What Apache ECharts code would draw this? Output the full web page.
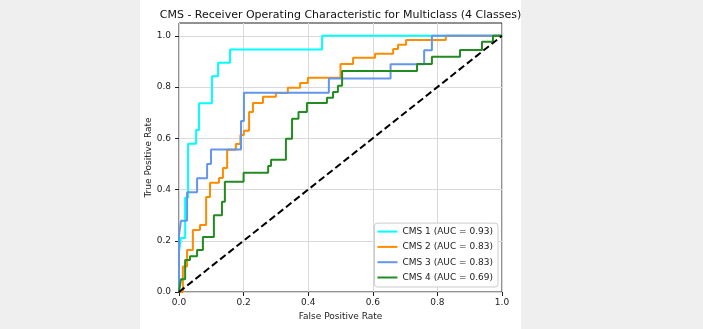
<!DOCTYPE html>
<html>
<head>
<meta charset="utf-8">
<script src="https://cdn.jsdelivr.net/npm/echarts@6/dist/echarts.min.js"></script>
<style>
html,body{margin:0;padding:0;background:#efefef;}
#chart{width:703px;height:329px;}
</style>
</head>
<body>
<div id="chart"></div>
<script>
// ---- data ----
const titleText = 'CMS - Receiver Operating Characteristic for Multiclass (4 Classes)';
const xTickLabels = ['0.0','0.2','0.4','0.6','0.8','1.0'];
const yTickLabels = ['0.0','0.2','0.4','0.6','0.8','1.0'];
const seriesNames = ['CMS 1 (AUC = 0.93)','CMS 2 (AUC = 0.83)','CMS 3 (AUC = 0.83)','CMS 4 (AUC = 0.69)'];

const cms1Fpr = [0,0,0.006,0.006,0.019,0.019,0.028,0.028,0.053,0.053,0.062,0.062,0.102,0.102,0.121,0.121,0.158,0.158,0.443,0.443,1];
const cms1Tpr = [0,0.158,0.158,0.211,0.211,0.368,0.368,0.579,0.579,0.632,0.632,0.737,0.737,0.842,0.842,0.895,0.895,0.947,0.947,1,1];

const cms2Fpr = [0,0.012,0.012,0.025,0.025,0.043,0.043,0.065,0.065,0.084,0.084,0.096,0.096,0.124,0.124,0.136,0.136,0.149,0.149,0.176,0.176,0.190,0.190,0.201,0.201,0.217,0.217,0.229,0.229,0.260,0.260,0.300,0.300,0.337,0.337,0.375,0.375,0.399,0.399,0.500,0.500,0.539,0.539,0.607,0.607,0.663,0.663,0.678,0.678,0.703,0.703,0.826,0.826,1];
const cms2Tpr = [0,0,0.100,0.100,0.164,0.164,0.242,0.242,0.262,0.262,0.371,0.371,0.426,0.426,0.445,0.445,0.484,0.484,0.555,0.555,0.578,0.578,0.613,0.613,0.629,0.629,0.703,0.703,0.738,0.738,0.762,0.762,0.777,0.777,0.797,0.797,0.816,0.816,0.836,0.836,0.890,0.890,0.914,0.914,0.930,0.930,0.949,0.949,0.965,0.965,0.984,0.984,1,1];

const cms3Fpr = [0,0,0.006,0.006,0.025,0.025,0.056,0.056,0.087,0.087,0.099,0.099,0.192,0.192,0.201,0.201,0.464,0.464,0.655,0.655,0.759,0.759,0.783,0.783,1];
const cms3Tpr = [0,0.222,0.222,0.278,0.278,0.389,0.389,0.444,0.444,0.500,0.500,0.556,0.556,0.667,0.667,0.778,0.778,0.833,0.833,0.889,0.889,0.944,0.944,1,1];

const cms4Fpr = [0,0.006,0.006,0.019,0.019,0.034,0.034,0.056,0.056,0.074,0.074,0.108,0.108,0.133,0.133,0.142,0.142,0.200,0.200,0.276,0.276,0.285,0.285,0.331,0.331,0.350,0.350,0.370,0.370,0.396,0.396,0.458,0.458,0.477,0.477,0.492,0.492,0.505,0.505,0.737,0.737,0.783,0.783,0.870,0.870,0.938,0.938,0.972,0.972,1];
const cms4Tpr = [0,0,0.050,0.050,0.125,0.125,0.140,0.140,0.164,0.164,0.215,0.215,0.300,0.300,0.352,0.352,0.430,0.430,0.465,0.465,0.492,0.492,0.516,0.516,0.598,0.598,0.676,0.676,0.703,0.703,0.738,0.738,0.758,0.758,0.781,0.781,0.805,0.805,0.863,0.863,0.890,0.890,0.918,0.918,0.945,0.945,0.977,0.977,1,1];

const chanceFpr = [0,1];
const chanceTpr = [0,1];

const colors = ['#00ffff','#ff8c00','#6495ed','#228b22'];

function pairs(xs, ys){ return xs.map((x,i)=>[x, ys[i]]); }

const curves = [pairs(cms1Fpr,cms1Tpr), pairs(cms2Fpr,cms2Tpr), pairs(cms3Fpr,cms3Tpr), pairs(cms4Fpr,cms4Tpr)];

const font = "'DejaVu Sans', sans-serif";
const tickVals = xTickLabels.map(Number);

const chart = echarts.init(document.getElementById('chart'), null, {renderer:'canvas'});
const series = curves.map((d,i)=>({
  name: seriesNames[i], type:'line', data:d, showSymbol:false, symbol:'none',
  lineStyle:{color:colors[i], width:2}, itemStyle:{color:colors[i]},
  animation:false, z: 3+i
}));
series.push({
  name:'chance', type:'line', data:pairs(chanceFpr,chanceTpr), showSymbol:false, symbol:'none',
  lineStyle:{color:'#000', width:2, type:[7,3.5]}, itemStyle:{color:'#000'}, animation:false, z:10
});

chart.setOption({
  backgroundColor:'#efefef',
  animation:false,
  graphic:[{type:'rect', shape:{x:140,y:0,width:381,height:329}, style:{fill:'#ffffff'}, z:-100, silent:true}],
  title:{text:titleText, left:335.5, top:5, textAlign:'center',
    textStyle:{fontFamily:font, fontSize:11, fontWeight:'normal', color:'#111'}},
  grid:{left:179, right:201, top:23, bottom:37, show:true, borderColor:'#222', borderWidth:1, backgroundColor:'transparent'},
  legend:{
    data:seriesNames, orient:'vertical', right:205, bottom:42,
    icon:'rect', itemWidth:20, itemHeight:2, itemGap:0.3,
    padding:[1,5,2,3],
    backgroundColor:'rgba(255,255,255,0.85)', borderColor:'#cccccc', borderWidth:1, borderRadius:3,
    textStyle:{fontFamily:font, fontSize:9, color:'#222', lineHeight:15}
  },
  xAxis:{type:'value', min:0, max:1, interval:0.2,
    name:'False Positive Rate', nameLocation:'middle', nameGap:20,
    nameTextStyle:{fontFamily:font, fontSize:9, color:'#222'},
    axisLine:{show:false}, axisTick:{show:true, length:4, lineStyle:{color:'#222'}},
    axisLabel:{fontFamily:font, fontSize:9, color:'#222', margin:6, formatter:v=>v.toFixed(1)},
    splitLine:{show:true, lineStyle:{color:'#d9d9d9', width:1}}},
  yAxis:{type:'value', min:0, max:1.05, interval:0.2,
    name:'True Positive Rate', nameLocation:'middle', nameGap:25,
    nameTextStyle:{fontFamily:font, fontSize:9, color:'#222'},
    axisLine:{show:false},
    axisTick:{show:true, length:4, lineStyle:{color:'#222'}, customValues:tickVals},
    axisLabel:{fontFamily:font, fontSize:9, color:'#222', margin:8, customValues:tickVals, formatter:v=>yTickLabels[Math.round(v*5)]},
    splitLine:{show:true, lineStyle:{color:'#d9d9d9', width:1}}},
  series:series
});
</script>
</body>
</html>
